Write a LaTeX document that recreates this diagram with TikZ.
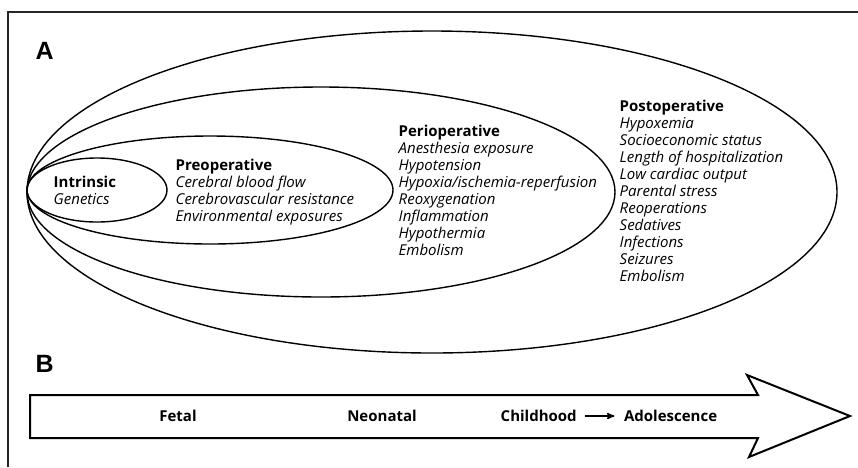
\documentclass[tikz,border=0pt]{standalone}
\usepackage{fontspec}
\setmainfont{Open Sans}
\newfontfamily\panelfont{Liberation Sans}
\usepackage{tikz}
\usetikzlibrary{arrows,positioning}

\begin{document}
\begin{tikzpicture}[x=1pt,y=-1pt,>=stealth',line width=1.4pt,font=\fontsize{15}{17}\selectfont]
  \tikzstyle{group}=[anchor=base west,align=left,inner sep=0pt]
  \tikzstyle{stage}=[font=\fontsize{15}{17}\selectfont\bfseries,inner sep=0pt]
  \tikzstyle{panel}=[font=\panelfont\fontsize{25}{25}\selectfont\bfseries,inner sep=0pt,anchor=base west]

  \useasboundingbox (0,0) rectangle (858,467);
  \draw[line width=2pt,black!85] (8,467) -- (8,12) -- (858,12);

  \node[panel] (A) at (35,59)  {A};
  \node[panel] (B) at (35,372) {B};

  \draw (97,190)  ellipse [x radius=70,y radius=32];
  \draw (210,190) ellipse [x radius=183,y radius=54];
  \draw (321,192) ellipse [x radius=294,y radius=105];
  \draw (432,192) ellipse [x radius=405,y radius=161];

  \node[group] (intr)   at (53,204)  {\textbf{Intrinsic}\\\textit{Genetics}};
  \node[group] (preop)  at (175,221) {\textbf{Preoperative}\\\textit{Cerebral blood flow}\\
    \textit{Cerebrovascular resistance}\\\textit{Environmental exposures}};
  \node[group] (periop) at (398,255) {\textbf{Perioperative}\\\textit{Anesthesia exposure}\\
    \textit{Hypotension}\\\textit{Hypoxia/ischemia-reperfusion}\\\textit{Reoxygenation}\\
    \textit{Inflammation}\\\textit{Hypothermia}\\\textit{Embolism}};
  \node[group] (postop) at (619,281) {\textbf{Postoperative}\\\textit{Hypoxemia}\\
    \textit{Socioeconomic status}\\\textit{Length of hospitalization}\\\textit{Low cardiac output}\\
    \textit{Parental stress}\\\textit{Reoperations}\\\textit{Sedatives}\\\textit{Infections}\\
    \textit{Seizures}\\\textit{Embolism}};

  \draw[line width=2pt] (30,395) -- (758,395) -- (747,375) -- (850,416) -- (749,457)
    -- (758,438) -- (30,438) -- cycle;

  \node[stage] (fetal) at (178,416) {Fetal};
  \node[stage] (neo)   at (382,416) {Neonatal};
  \node[stage,anchor=west] (child) at (500,416) {Childhood};
  \node[stage] (adol) [right=46pt of child] {Adolescence};
  \draw[->,line width=1.5pt,shorten <=8pt,shorten >=9pt] (child) -- (adol);
\end{tikzpicture}
\end{document}
